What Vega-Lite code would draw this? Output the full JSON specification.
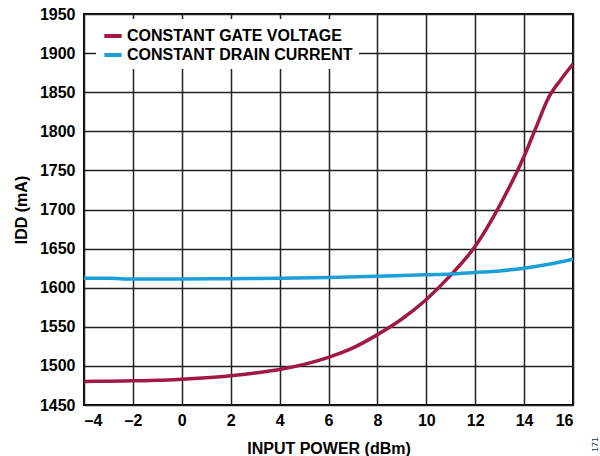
{
  "$schema": "https://vega.github.io/schema/vega-lite/v6.json",
  "autosize": "none",
  "width": 489,
  "height": 391,
  "padding": {"left": 84, "top": 14, "right": 27, "bottom": 51},
  "background": "white",
  "config": {
    "font": "Liberation Sans",
    "view": {"stroke": "black", "strokeWidth": 2},
    "axis": {
      "labelFont": "Liberation Sans",
      "labelFontWeight": "bold",
      "labelFontSize": 16,
      "labelColor": "black",
      "titleFont": "Liberation Sans",
      "titleFontWeight": "bold",
      "titleFontSize": 16,
      "titleColor": "black",
      "domain": false,
      "ticks": false,
      "grid": true,
      "gridColor": "#222222",
      "gridWidth": 1.5,
      "gridOpacity": 1
    }
  },
  "title": {
    "text": "171",
    "orient": "right",
    "anchor": "end",
    "angle": -90,
    "align": "left",
    "fontSize": 9,
    "fontWeight": "normal",
    "color": "#333333",
    "font": "Liberation Sans",
    "offset": 9,
    "dx": 4
  },
  "data": {
    "values": [
      {"p": -4, "i": 1480, "s": "CONSTANT GATE VOLTAGE"},
      {"p": -3, "i": 1480.5, "s": "CONSTANT GATE VOLTAGE"},
      {"p": -2, "i": 1481, "s": "CONSTANT GATE VOLTAGE"},
      {"p": -1, "i": 1481.5, "s": "CONSTANT GATE VOLTAGE"},
      {"p": 0, "i": 1483, "s": "CONSTANT GATE VOLTAGE"},
      {"p": 1, "i": 1485, "s": "CONSTANT GATE VOLTAGE"},
      {"p": 2, "i": 1487.5, "s": "CONSTANT GATE VOLTAGE"},
      {"p": 3, "i": 1491, "s": "CONSTANT GATE VOLTAGE"},
      {"p": 4, "i": 1495.5, "s": "CONSTANT GATE VOLTAGE"},
      {"p": 5, "i": 1502, "s": "CONSTANT GATE VOLTAGE"},
      {"p": 6, "i": 1511, "s": "CONSTANT GATE VOLTAGE"},
      {"p": 7, "i": 1523, "s": "CONSTANT GATE VOLTAGE"},
      {"p": 8, "i": 1540, "s": "CONSTANT GATE VOLTAGE"},
      {"p": 9, "i": 1560, "s": "CONSTANT GATE VOLTAGE"},
      {"p": 10, "i": 1585, "s": "CONSTANT GATE VOLTAGE"},
      {"p": 11, "i": 1616, "s": "CONSTANT GATE VOLTAGE"},
      {"p": 12, "i": 1653, "s": "CONSTANT GATE VOLTAGE"},
      {"p": 13, "i": 1705, "s": "CONSTANT GATE VOLTAGE"},
      {"p": 14, "i": 1768, "s": "CONSTANT GATE VOLTAGE"},
      {"p": 14.5, "i": 1806, "s": "CONSTANT GATE VOLTAGE"},
      {"p": 15, "i": 1843, "s": "CONSTANT GATE VOLTAGE"},
      {"p": 15.5, "i": 1866, "s": "CONSTANT GATE VOLTAGE"},
      {"p": 16, "i": 1886, "s": "CONSTANT GATE VOLTAGE"},
      {"p": -4, "i": 1612, "s": "CONSTANT DRAIN CURRENT"},
      {"p": -3, "i": 1612, "s": "CONSTANT DRAIN CURRENT"},
      {"p": -2, "i": 1611, "s": "CONSTANT DRAIN CURRENT"},
      {"p": 0, "i": 1611, "s": "CONSTANT DRAIN CURRENT"},
      {"p": 2, "i": 1611.5, "s": "CONSTANT DRAIN CURRENT"},
      {"p": 4, "i": 1612, "s": "CONSTANT DRAIN CURRENT"},
      {"p": 6, "i": 1613, "s": "CONSTANT DRAIN CURRENT"},
      {"p": 8, "i": 1614.5, "s": "CONSTANT DRAIN CURRENT"},
      {"p": 10, "i": 1616.5, "s": "CONSTANT DRAIN CURRENT"},
      {"p": 11, "i": 1617.5, "s": "CONSTANT DRAIN CURRENT"},
      {"p": 12, "i": 1619.5, "s": "CONSTANT DRAIN CURRENT"},
      {"p": 13, "i": 1621.5, "s": "CONSTANT DRAIN CURRENT"},
      {"p": 14, "i": 1625, "s": "CONSTANT DRAIN CURRENT"},
      {"p": 15, "i": 1630, "s": "CONSTANT DRAIN CURRENT"},
      {"p": 16, "i": 1636.5, "s": "CONSTANT DRAIN CURRENT"}
    ]
  },
  "mark": {"type": "line", "interpolate": "monotone", "strokeWidth": 3.5, "clip": true},
  "encoding": {
    "x": {
      "field": "p",
      "type": "quantitative",
      "scale": {"domain": [-4, 16], "nice": false, "zero": false},
      "axis": {
        "values": [-4, -2, 0, 2, 4, 6, 8, 10, 12, 14, 16],
        "title": "INPUT POWER (dBm)",
        "labelPadding": 7,
        "titlePadding": 12,
        "labelExpr": "replace(datum.label, '−', '–')"
      }
    },
    "y": {
      "field": "i",
      "type": "quantitative",
      "scale": {"domain": [1450, 1950], "nice": false, "zero": false},
      "axis": {
        "values": [1450, 1500, 1550, 1600, 1650, 1700, 1750, 1800, 1850, 1900, 1950],
        "format": "d",
        "title": "IDD (mA)",
        "labelPadding": 9,
        "titlePadding": 10
      }
    },
    "color": {
      "field": "s",
      "type": "nominal",
      "sort": ["CONSTANT GATE VOLTAGE", "CONSTANT DRAIN CURRENT"],
      "scale": {
        "domain": ["CONSTANT GATE VOLTAGE", "CONSTANT DRAIN CURRENT"],
        "range": ["#A01A44", "#1A9FD9"]
      },
      "legend": {
        "title": null,
        "orient": "none",
        "legendX": 12,
        "legendY": 5,
        "fillColor": "white",
        "padding": 6,
        "symbolType": "stroke",
        "symbolSize": 300,
        "symbolStrokeWidth": 4,
        "labelFont": "Liberation Sans",
        "labelFontWeight": "bold",
        "labelFontSize": 16,
        "labelColor": "black",
        "labelOffset": 3,
        "rowPadding": 0,
        "labelLimit": 400
      }
    }
  }
}
